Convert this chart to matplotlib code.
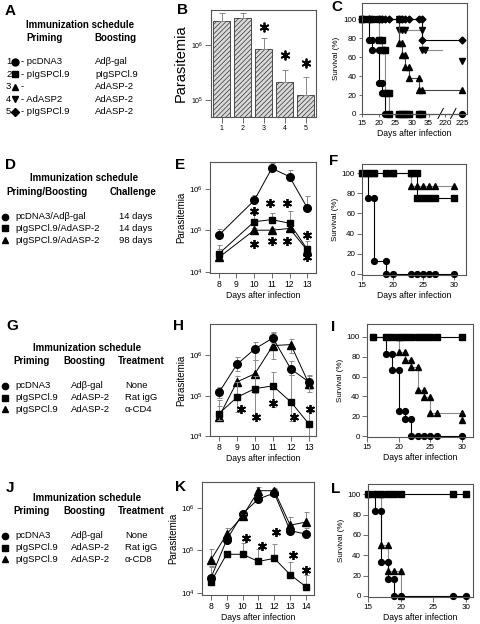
import numpy as np
import matplotlib
matplotlib.use("Agg")
import matplotlib.pyplot as plt
from matplotlib.ticker import FixedLocator, NullLocator

plt.rcParams['font.family'] = ['Liberation Sans', 'DejaVu Sans']
plt.rcParams['hatch.linewidth'] = 0.5
plt.rcParams['mathtext.default'] = 'regular'

# ---------------- data ----------------
# B: parasitemia bars, groups 1..5
b_groups = [1, 2, 3, 4, 5]
b_mean = [2.8e6, 3.2e6, 8.5e5, 2.15e5, 1.25e5]
b_err = [1.0e6, 0.6e6, 5.3e5, 1.35e5, 1.35e5]
b_star_x = [3, 4, 5]
b_star_y = [2.15e6, 6.6e5, 4.7e5]

# C: survival, days > 35 sit after the axis break
c1_days = [15, 17, 17, 18, 18, 20, 20, 21, 21, 22, 22, 23, 26, 27, 28, 29, 32, 33, 225]
c1_surv = [100, 100, 78, 78, 67, 67, 33, 33, 22, 22, 0, 0, 0, 0, 0, 0, 0, 0, 0]
c2_days = [15, 17, 18, 20, 20, 21, 21, 22, 22, 23, 23, 26, 27, 28, 29, 32, 33]
c2_surv = [100, 100, 100, 100, 78, 78, 67, 67, 22, 22, 0, 0, 0, 0, 0, 0, 0]
c3_days = [15, 26, 26, 27, 27, 28, 28, 29, 29, 32, 32, 33, 225]
c3_surv = [100, 100, 75, 75, 62.5, 62.5, 50, 50, 37.5, 37.5, 25, 25, 25]
c4_days = [15, 26, 26, 27, 28, 33, 33, 34, 219]
c4_surv = [100, 100, 89, 89, 89, 89, 67, 67, 67]
c4_end_day = [225]
c4_end_surv = [56]
c5_days = [15, 17, 20, 21, 22, 23, 26, 27, 28, 29, 32, 33, 33, 225]
c5_surv = [100, 100, 100, 100, 100, 100, 100, 100, 100, 100, 100, 100, 78, 78]
c_ticks = [15, 20, 25, 30, 35, 220, 225]

# E: parasitemia
e_days = [8, 10, 11, 12, 13]
e_circle = [7.6e4, 5.2e5, 3.1e6, 1.95e6, 3.5e5]
e_circle_err = [2.9e4, 2.0e5, 1.1e6, 8.5e5, 3.1e5]
e_square = [2.7e4, 1.6e5, 1.8e5, 1.47e5, 3.5e4]
e_square_err = [1.8e4, 8e4, 8e4, 1.5e5, 2.1e4]
e_triangle = [2.2e4, 1.0e5, 1.0e5, 1.1e5, 3.3e4]
e_triangle_err = [1.3e4, 1.5e4, 1.5e4, 1.5e4, 8e3]
e_star_x = [10, 10, 10.9, 11, 11.85, 11.85, 13, 13]
e_star_y = [2.9e5, 4.7e4, 4.4e5, 5.6e4, 4.4e5, 5.5e4, 7.7e4, 2.2e4]

# F: survival
f_circle_days = [15, 16, 16, 17, 17, 19, 19, 20, 23, 24, 25, 26, 27, 30]
f_circle_surv = [100, 100, 75, 75, 12.5, 12.5, 0, 0, 0, 0, 0, 0, 0, 0]
f_square_days = [15, 16, 17, 19, 20, 23, 24, 24, 25, 26, 27, 30]
f_square_surv = [100, 100, 100, 100, 100, 100, 100, 75, 75, 75, 75, 75]
f_triangle_days = [15, 16, 17, 19, 20, 23, 23, 24, 25, 26, 27, 30]
f_triangle_surv = [100, 100, 100, 100, 100, 100, 87.5, 87.5, 87.5, 87.5, 87.5, 87.5]

# H: parasitemia with low/high bounds
h_days = [8, 9, 10, 11, 12, 13]
h_circle = [1.2e5, 6e5, 1.45e6, 2.7e6, 4.6e5, 2.2e5]
h_circle_lo = [9e4, 4e5, 7.8e5, 2e6, 3.3e5, 1.5e5]
h_circle_hi = [1.6e5, 9.3e5, 2.1e6, 3.8e6, 7.1e5, 3.3e5]
h_square = [3.6e4, 9.1e4, 1.5e5, 1.75e5, 7e4, 2e4]
h_square_lo = [2.5e4, 4e4, 2.7e4, 5.3e4, 2.4e4, 1e4]
h_square_hi = [7.7e4, 2.2e5, 3e5, 3.8e5, 3.3e5, 4e4]
h_triangle = [3e4, 2.2e5, 3.5e5, 1.75e6, 1.85e6, 2e5]
h_triangle_lo = [2.5e4, 1e5, 1.15e5, 8.1e5, 1.15e6, 1.2e5]
h_triangle_hi = [5.4e4, 3e5, 7.8e5, 3.6e6, 2.6e6, 3e5]
h_star_x = [9.2, 10.05, 11, 12.15, 13.05]
h_star_y = [4.8e4, 3e4, 6.5e4, 3e4, 4.8e4]

# I: survival
i_circle_days = [16, 18, 18, 19, 19, 20, 20, 21, 21, 22, 22, 23, 24, 25, 26, 30]
i_circle_surv = [100, 100, 83, 83, 67, 67, 25, 25, 17, 17, 0, 0, 0, 0, 0, 0]
i_square_days = [16, 18, 19, 20, 21, 22, 23, 24, 25, 26, 30]
i_square_surv = [100, 100, 100, 100, 100, 100, 100, 100, 100, 100, 100]
i_triangle_days = [20, 20, 21, 21, 22, 22, 23, 23, 24, 24, 25, 25, 26, 30, 30]
i_triangle_surv = [100, 85, 85, 77, 77, 70, 70, 46, 46, 39, 39, 23, 23, 23, 16]

# K: parasitemia
k_days = [8, 9, 10, 11, 12, 13, 14]
k_circle = [2.2e4, 1.75e5, 7.2e5, 1.6e6, 2.2e6, 2.9e5, 2.4e5]
k_circle_err = [2e4, 5e4, 1e5, 3e5, 5e5, 4e4, 9e4]
k_triangle = [5.9e4, 2.4e5, 6.3e5, 2.5e6, 2.5e6, 3.9e5, 4.6e5]
k_triangle_err = [5e4, 9e4, 1e5, 5e5, 4.5e5, 2.1e5, 3.3e5]
k_square = [1.8e4, 8.1e4, 8.1e4, 5.5e4, 6.5e4, 2.7e4, 1.4e4]
k_square_err = [2.2e4, 0, 6.4e4, 5.5e4, 7.5e4, 2.5e4, 1.3e4]
k_star_x = [10.2, 11.2, 12.1, 13.2, 14]
k_star_y = [1.9e5, 1.3e5, 2.7e5, 7.7e4, 3.5e4]

# L: survival
l_circle_days = [15, 16, 16, 17, 17, 18, 18, 19, 19, 20, 28, 30]
l_circle_surv = [100, 100, 83, 83, 33, 33, 17, 17, 0, 0, 0, 0]
l_square_days = [15, 16, 17, 18, 19, 20, 28, 30]
l_square_surv = [100, 100, 100, 100, 100, 100, 100, 100]
l_triangle_days = [15, 17, 17, 18, 18, 19, 20, 20]
l_triangle_surv = [100, 100, 50, 50, 25, 25, 25, 0]

# text panels
a_numbers = ['1', '2', '3', '4', '5']
a_markers = ['o', 's', '^', 'v', 'D']
a_priming = ['pcDNA3', 'pIgSPCl.9', '', 'AdASP2', 'pIgSPCl.9']
a_boosting = ['Adβ-gal', 'pIgSPCl.9', 'AdASP-2', 'AdASP-2', 'AdASP-2']
d_markers = ['o', 's', '^']
d_schedule = ['pcDNA3/Adβ-gal', 'pIgSPCl.9/AdASP-2', 'pIgSPCl.9/AdASP-2']
d_challenge = ['14 days', '14 days', '98 days']
g_priming = ['pcDNA3', 'pIgSPCl.9', 'pIgSPCl.9']
g_boosting = ['Adβ-gal', 'AdASP-2', 'AdASP-2']
g_treatment = ['None', 'Rat igG', 'α-CD4']
j_treatment = ['None', 'Rat igG', 'α-CD8']

# ---------------- figure ----------------
W, H = 480, 624
fig = plt.figure(figsize=(4.8, 6.24), dpi=100)
ov = fig.add_axes([0, 0, 1, 1])
ov.set_xlim(0, W)
ov.set_ylim(H, 0)
ov.axis('off')

SP = '#555555'
EB = '#8a8a8a'


def add_ax(x0, y0, x1, y1):
    return fig.add_axes([x0 / W, 1 - y1 / H, (x1 - x0) / W, (y1 - y0) / H])


def style(ax, ticklen=3.5):
    for s in ax.spines.values():
        s.set_color(SP)
        s.set_linewidth(0.8)
    ax.tick_params(length=ticklen, width=0.6, color=SP, labelsize=5.8, pad=1.5)


def stars(ax, x, y, ms=6.5):
    # bold six-armed asterisks marking significance
    ax.plot(x, y, ls='none', marker=(6, 2, 0), ms=ms, mew=1.3, color='k', clip_on=False)


def surv_line(ax, x, y, marker, color='k', ms=4.2, markevery=None):
    ax.plot(x, y, color=color, lw=0.8, marker=marker, ms=ms, mfc='k', mec='k',
            clip_on=False, markevery=markevery)


def surv_axes(ax, xlim, ylim):
    style(ax)
    ax.set_xlim(*xlim)
    ax.set_ylim(*ylim)
    ax.set_yticks([0, 20, 40, 60, 80, 100])
    ax.set_ylabel('Survival (%)', fontsize=5.8, labelpad=2)
    ax.set_xlabel('Days after infection', fontsize=6.2, labelpad=1.5)


def para_axes(ax, xlim, ylim, days):
    style(ax)
    ax.set_yscale('log')
    ax.set_xlim(*xlim)
    ax.set_ylim(*ylim)
    ax.yaxis.set_major_locator(FixedLocator([1e4, 1e5, 1e6]))
    ax.yaxis.set_minor_locator(NullLocator())
    ax.set_xticks(days)
    ax.tick_params(axis='x', labelsize=6.2)
    ax.set_ylabel('Parasitemia', fontsize=7, labelpad=2)
    ax.set_xlabel('Days after infection', fontsize=6.2, labelpad=1.5)


def para_line(ax, x, y, err, marker, ms=5.5):
    ax.errorbar(x, y, yerr=err, fmt='none', ecolor=EB, elinewidth=0.7,
                capsize=1.8, capthick=0.7)
    ax.plot(x, y, color='k', lw=0.7, marker=marker, ms=ms, clip_on=False)


def label(x, y, s):
    ov.text(x, y, s, fontsize=11, fontweight='bold', ha='center', va='center')


# ---- A ----
label(10, 11, 'A')
ov.text(80, 25, 'Immunization schedule', ha='center', va='center', fontsize=7, fontweight='bold')
ov.text(45, 38, 'Priming', ha='center', va='center', fontsize=7, fontweight='bold')
ov.text(115, 38, 'Boosting', ha='center', va='center', fontsize=7, fontweight='bold')
for i in range(len(a_numbers)):
    yy = 61.7 + 12.5 * i
    ov.text(6, yy, a_numbers[i], ha='left', va='center', fontsize=6.8)
    ov.plot([15], [yy], marker=a_markers[i], ms=5 if a_markers[i] != 'D' else 4.2, color='k')
    ov.text(21, yy, '- ' + a_priming[i], ha='left', va='center', fontsize=6.8)
    ov.text(95, yy, a_boosting[i], ha='left', va='center', fontsize=6.8)

# ---- D ----
label(10, 165, 'D')
ov.text(84, 178, 'Immunization schedule', ha='center', va='center', fontsize=7, fontweight='bold')
ov.text(6, 192, 'Priming/Boosting', ha='left', va='center', fontsize=7, fontweight='bold')
ov.text(110, 192, 'Challenge', ha='left', va='center', fontsize=7, fontweight='bold')
for i in range(3):
    yy = 216.7 + 11.7 * i
    ov.plot([4.5], [yy], marker=d_markers[i], ms=4.5, color='k')
    ov.text(15, yy, d_schedule[i], ha='left', va='center', fontsize=6.8)
    ov.text(119, yy, d_challenge[i], ha='left', va='center', fontsize=6.8)

# ---- G / J ----
for lab, lx, ly, y0, treat in [('G', 12.5, 326, 310, g_treatment), ('J', 10, 488, 460, j_treatment)]:
    label(lx, ly, lab)
    ov.text(87, y0 + 37.7, 'Immunization schedule', ha='center', va='center', fontsize=7, fontweight='bold')
    ov.text(13, y0 + 50.7, 'Priming', ha='left', va='center', fontsize=7, fontweight='bold')
    ov.text(63, y0 + 50.7, 'Boosting', ha='left', va='center', fontsize=7, fontweight='bold')
    ov.text(118, y0 + 50.7, 'Treatment', ha='left', va='center', fontsize=7, fontweight='bold')
    for i in range(3):
        yy = y0 + 76 + 11.65 * i
        ov.plot([4.5], [yy], marker=d_markers[i], ms=4.5, color='k')
        ov.text(15.5, yy, g_priming[i], ha='left', va='center', fontsize=6.8)
        ov.text(71, yy, g_boosting[i], ha='left', va='center', fontsize=6.8)
        ov.text(125, yy, treat[i], ha='left', va='center', fontsize=6.8)

# ---- B ----
label(182, 10, 'B')
ax = add_ax(211, 10, 316, 117)
style(ax, ticklen=4)
ax.set_yscale('log')
ax.bar(b_groups, [m - 1e4 for m in b_mean], bottom=1e4, width=0.8, facecolor='#d9d9d9',
       edgecolor='#333333', linewidth=0.6, hatch='///////')
ax.errorbar(b_groups, b_mean, yerr=[np.zeros(5), b_err], fmt='none', ecolor=EB,
            elinewidth=0.7, capsize=2, capthick=0.7)
stars(ax, b_star_x, b_star_y, ms=7)
ax.set_xlim(0.5, 5.5)
ax.set_ylim(4.9e4, 4.4e6)
ax.yaxis.set_major_locator(FixedLocator([1e5, 1e6]))
ax.yaxis.set_minor_locator(NullLocator())
ax.set_xticks(b_groups)
ax.tick_params(labelsize=5)
ax.set_ylabel('Parasitemia', fontsize=10.5, labelpad=2)

# ---- C ----
label(337, 7, 'C')
ax = add_ax(362, 3, 467, 114)


def cmap(days):
    return [d if d <= 35 else d - 180 for d in days]


surv_line(ax, cmap(c4_days), c4_surv, 'v', color='#8a8a8a', markevery=list(range(len(c4_days) - 1)))
ax.plot(cmap(c4_end_day), c4_end_surv, ls='none', marker='v', ms=4.2, color='k', clip_on=False)
surv_line(ax, cmap(c3_days), c3_surv, '^', color='#444444')
surv_line(ax, cmap(c2_days), c2_surv, 's', color='#8a8a8a', ms=3.9)
surv_line(ax, cmap(c5_days), c5_surv, 'D', color='k', ms=3.5)
surv_line(ax, cmap(c1_days), c1_surv, 'o', color='k')
surv_axes(ax, (15, 46.5), (0, 117))
ax.tick_params(length=2.5)
ax.set_xticks(cmap(c_ticks))
ax.set_xticklabels([str(t) for t in c_ticks])
tr = ax.get_xaxis_transform()
for xb in [38.6, 42.4]:
    ax.plot([xb - 0.8, xb + 0.8], [-0.04, 0.05], transform=tr, color='k', lw=0.7, clip_on=False)

# ---- E ----
label(180, 165, 'E')
ax = add_ax(210, 162, 316, 273)
para_line(ax, e_days, e_triangle, [np.zeros(5), e_triangle_err], '^')
para_line(ax, e_days, e_square, [np.zeros(5), e_square_err], 's', ms=5)
para_line(ax, e_days, e_circle, [np.zeros(5), e_circle_err], 'o')
stars(ax, e_star_x, e_star_y)
para_axes(ax, (7.5, 13.5), (9.3e3, 4.4e6), [8, 9, 10, 11, 12, 13])

# ---- F ----
label(334, 161, 'F')
ax = add_ax(362, 164, 466, 275)
surv_line(ax, f_triangle_days, f_triangle_surv, '^', color='#8a8a8a')
surv_line(ax, f_square_days, f_square_surv, 's', ms=3.9)
surv_line(ax, f_circle_days, f_circle_surv, 'o')
surv_axes(ax, (15, 32), (-1, 109))
ax.set_xticks([15, 20, 25, 30])

# ---- H ----
label(179, 326, 'H')
ax = add_ax(210, 324, 316, 436)
for m, lo, hi, mk in [(h_triangle, h_triangle_lo, h_triangle_hi, '^'),
                      (h_square, h_square_lo, h_square_hi, 's'),
                      (h_circle, h_circle_lo, h_circle_hi, 'o')]:
    err = [np.array(m) - np.array(lo), np.array(hi) - np.array(m)]
    para_line(ax, h_days, m, err, mk, ms=5.5 if mk != 's' else 5)
stars(ax, h_star_x, h_star_y)
para_axes(ax, (7.5, 13.4), (1e4, 6e6), h_days)

# ---- I ----
label(333, 327, 'I')
ax = add_ax(367, 324, 473, 437)
surv_line(ax, i_triangle_days, i_triangle_surv, '^', color='#8a8a8a')
surv_line(ax, i_square_days, i_square_surv, 's', ms=3.9)
surv_line(ax, i_circle_days, i_circle_surv, 'o')
surv_axes(ax, (15, 31.7), (-1, 113))
ax.set_xticks([15, 20, 25, 30])

# ---- K ----
label(181, 487, 'K')
ax = add_ax(202, 482, 314, 595)
para_line(ax, k_days, k_square, [np.zeros(7), k_square_err], 's', ms=5)
para_line(ax, k_days, k_circle, [np.zeros(7), k_circle_err], 'o')
para_line(ax, k_days, k_triangle, [np.zeros(7), k_triangle_err], '^')
stars(ax, k_star_x, k_star_y)
para_axes(ax, (7.45, 14.5), (9e3, 4e6), k_days)

# ---- L ----
label(336, 489, 'L')
ax = add_ax(368, 484, 473, 597)
surv_line(ax, l_triangle_days, l_triangle_surv, '^', color='#8a8a8a')
surv_line(ax, l_square_days, l_square_surv, 's', ms=3.9)
surv_line(ax, l_circle_days, l_circle_surv, 'o')
surv_axes(ax, (15, 31.1), (-1, 110))
ax.set_xticks([15, 20, 25, 30])

fig.savefig('out.png', dpi=100)
